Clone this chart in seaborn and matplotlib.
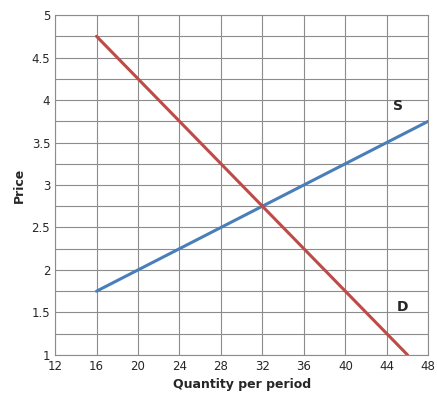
import seaborn as sns
import pandas as pd
import matplotlib.pyplot as plt
from matplotlib.ticker import MultipleLocator

supply_q = [16, 48]
supply_p = [1.75, 3.75]
demand_q = [16, 46]
demand_p = [4.75, 1.0]

sns.set_style("white")
fig = plt.figure(figsize=(4.37, 4.07), dpi=100)
ax = fig.add_axes([0.126, 0.128, 0.854, 0.835])

sns.lineplot(x=supply_q, y=supply_p, color="#4a7ebb", linewidth=2.2, ax=ax)
sns.lineplot(x=demand_q, y=demand_p, color="#be4b48", linewidth=2.2, ax=ax)

ax.set_xlim(12, 48)
ax.set_ylim(1, 5)
ax.xaxis.set_major_locator(MultipleLocator(4))
ax.yaxis.set_major_locator(MultipleLocator(0.5))
ax.yaxis.set_minor_locator(MultipleLocator(0.25))
ax.grid(which="major", color="#8c8c8c", linewidth=0.8)
ax.grid(which="minor", axis="y", color="#8c8c8c", linewidth=0.8)
ax.set_axisbelow(True)
for s in ax.spines.values():
    s.set_color("#8c8c8c")
ax.tick_params(labelsize=8.5, length=0)
ax.set_yticks([1, 1.5, 2, 2.5, 3, 3.5, 4, 4.5, 5])
ax.set_yticklabels(["1", "1.5", "2", "2.5", "3", "3.5", "4", "4.5", "5"])

ax.text(44.6, 3.88, "S", fontsize=10, fontweight="bold")
ax.text(45.0, 1.52, "D", fontsize=10, fontweight="bold")

ax.set_xlabel("Quantity per period", fontsize=9, fontweight="bold")
ax.set_ylabel("Price", fontsize=9, fontweight="bold")

plt.savefig("out.png", dpi=100)
